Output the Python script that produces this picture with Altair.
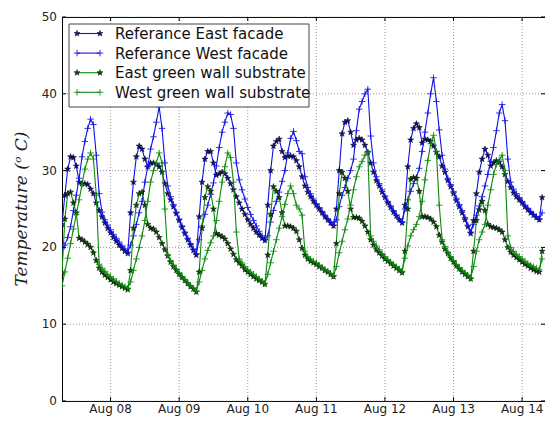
import math
import altair as alt
import pandas as pd

names = ["Referance East facade", "Referance West facade",
         "East green wall substrate", "West green wall substrate"]
first_hour = 7      # first reading: Aug 07, 07:00 (hourly readings, hours counted from Aug 07 00:00)

east_facade = [
    23.0, 26.8, 30.2, 31.8, 31.7, 30.6, 28.5, 28.3, 28.3, 28.2, 27.6, 27.0, 25.8, 24.8, 24.0, 23.2, 22.5, 21.9, 21.3, 20.8, 20.3, 19.9, 19.5, 19.2,
    24.5, 28.5, 31.8, 33.2, 32.8, 31.5, 30.5, 31.0, 31.0, 30.8, 30.5, 29.8, 28.3, 27.0, 26.2, 25.3, 24.4, 23.5, 22.6, 21.8, 21.0, 20.3, 19.6, 19.0,
    24.0, 28.5, 31.5, 32.5, 32.5, 31.0, 29.4, 29.6, 29.8, 29.6, 29.0, 28.3, 27.5, 26.6, 25.8, 25.0, 24.3, 23.6, 23.0, 22.5, 22.0, 21.6, 21.2, 20.9,
    25.5, 30.0, 33.2, 33.8, 34.1, 32.5, 31.7, 31.9, 31.9, 31.8, 31.3, 30.5, 29.2, 28.0, 27.2, 26.6, 26.0, 25.5, 25.0, 24.5, 24.0, 23.6, 23.2, 22.8,
    25.0, 30.0, 34.8, 36.3, 36.5, 35.0, 33.3, 34.0, 34.2, 34.0, 33.3, 32.4, 31.0, 29.8, 28.7, 28.0, 27.2, 26.5, 25.8, 25.2, 24.6, 24.1, 23.6, 23.2,
    25.5, 30.5, 34.0, 35.5, 36.1, 35.6, 33.6, 34.1, 34.0, 33.8, 33.2, 32.4, 31.8, 30.6, 29.8, 28.7, 27.9, 27.0, 26.1, 25.3, 24.5, 23.6, 22.7, 21.8,
    23.5, 27.0, 29.8, 31.5, 32.8, 32.0, 30.6, 31.0, 31.3, 31.1, 30.5, 29.5, 28.6, 27.8, 27.1, 26.6, 26.2, 25.8, 25.3, 24.9, 24.5, 24.2, 23.9, 23.6,
    26.5]

west_facade = [
    19.8, 20.3, 21.3, 22.7, 24.8, 26.8, 29.0, 31.8, 33.8, 35.5, 36.7, 36.0, 32.0, 27.0, 24.6, 23.6, 22.9, 22.3, 21.7, 21.2, 20.7, 20.2, 19.8, 19.4,
    20.3, 21.5, 23.0, 24.5, 26.0, 28.5, 30.5, 32.8, 34.4, 36.3, 38.3, 35.5, 31.0, 28.0, 26.6, 25.6, 24.6, 23.7, 22.8, 22.0, 21.2, 20.5, 19.8, 19.2,
    21.0, 22.8, 24.3, 25.5, 26.9, 28.4, 30.6, 33.0, 35.0, 36.3, 37.5, 37.3, 35.5, 31.0, 28.8, 27.5, 26.3, 25.2, 24.3, 23.5, 22.8, 22.1, 21.5, 21.0,
    21.5, 23.3, 24.8, 26.0, 27.2, 28.6, 30.0, 32.3, 34.2, 35.1, 33.9, 32.5, 32.2, 29.2, 27.8, 27.0, 26.3, 25.7, 25.2, 24.7, 24.2, 23.7, 23.3, 22.9,
    23.6, 25.3, 26.8, 27.8, 29.0, 30.0, 31.5, 35.2, 38.0, 39.0, 40.0, 40.6, 34.5, 31.0, 29.2, 28.3, 27.5, 26.7, 26.0, 25.4, 24.8, 24.2, 23.7, 23.3,
    25.0, 26.2, 27.3, 28.3, 29.1, 30.3, 32.5, 35.0, 37.5, 40.0, 42.1, 39.0, 35.3, 32.0, 30.2, 29.0, 28.2, 27.3, 26.4, 25.6, 24.8, 23.9, 22.9, 22.0,
    23.0, 24.2, 25.4, 26.6, 28.0, 29.5, 31.2, 33.0, 35.2, 37.5, 38.6, 36.5, 31.5, 28.5, 27.6, 27.0, 26.5, 26.0, 25.5, 25.1, 24.7, 24.3, 24.0, 23.7,
    24.5]

east_green = [
    16.7, 23.7, 27.0, 27.2, 25.8, 24.5, 21.2, 21.0, 20.7, 20.4, 20.0, 19.3, 18.3, 17.3, 16.8, 16.4, 16.1, 15.8, 15.5, 15.3, 15.1, 14.9, 14.7, 14.5,
    17.0, 22.5, 25.5, 27.0, 27.2, 25.5, 23.0, 22.5, 22.4, 22.0, 21.3, 20.5, 19.7, 18.9, 18.1, 17.5, 17.0, 16.5, 16.1, 15.7, 15.3, 14.9, 14.6, 14.2,
    16.8, 22.5, 26.5, 27.9, 27.3, 25.0, 21.8, 21.6, 21.4, 21.1, 20.5, 19.8, 19.1, 18.4, 18.0, 17.6, 17.1, 16.8, 16.5, 16.2, 15.9, 15.7, 15.5, 15.2,
    19.0, 24.3, 27.9, 27.3, 26.5, 24.5, 22.8, 22.8, 22.7, 22.5, 22.1, 21.0, 19.9, 19.0, 18.5, 18.2, 18.0, 17.8, 17.5, 17.3, 17.0, 16.8, 16.5, 16.2,
    20.5, 27.0, 29.8, 29.0, 27.3, 25.0, 23.9, 23.9, 23.8, 23.4, 22.8, 22.0, 21.0, 20.3, 19.7, 19.3, 18.9, 18.5, 18.2, 17.9, 17.6, 17.3, 17.0, 16.7,
    19.5, 25.0, 28.9, 29.1, 29.0, 27.3, 24.0, 24.0, 23.9, 23.7, 23.3, 22.7, 21.6, 20.7, 19.8, 19.2, 18.6, 18.1, 17.6, 17.2, 16.8, 16.5, 16.2, 15.9,
    19.5, 23.5, 24.9, 26.0, 24.8, 23.0, 22.7, 22.6, 22.5, 22.3, 22.0, 21.0, 20.0, 19.4, 19.0, 18.7, 18.4, 18.1, 17.8, 17.6, 17.3, 17.1, 16.9, 16.8,
    19.5]

west_green = [
    15.0, 16.8, 18.6, 20.5, 22.4, 24.3, 26.2, 28.2, 30.2, 31.5, 32.3, 31.5, 26.8, 17.8, 17.3, 16.9, 16.5, 16.2, 15.9, 15.6, 15.3, 15.1, 14.9, 14.7,
    15.5, 17.0, 18.5, 20.0, 21.5, 23.5, 26.0, 28.5, 30.0, 31.0, 32.3, 31.0, 25.0, 19.0, 18.3, 17.7, 17.2, 16.7, 16.2, 15.8, 15.4, 15.0, 14.7, 14.3,
    15.5, 17.0, 18.5, 19.6, 20.6, 21.5, 23.5, 26.0, 28.5, 30.5, 32.3, 31.7, 28.5, 22.0, 18.5, 18.0, 17.5, 17.1, 16.8, 16.5, 16.2, 15.9, 15.6, 15.3,
    16.5, 18.0, 19.5, 21.0, 22.5, 24.0, 25.6, 27.0, 28.0, 27.0, 25.5, 25.0, 24.2, 19.5, 18.8, 18.5, 18.2, 18.0, 17.7, 17.4, 17.1, 16.9, 16.6, 16.3,
    17.5, 19.3, 20.8, 22.3, 23.7, 25.5, 27.5, 29.2, 30.5, 31.2, 32.0, 32.4, 21.5, 20.8, 20.2, 19.7, 19.2, 18.8, 18.4, 18.1, 17.8, 17.5, 17.2, 16.9,
    18.6, 20.2, 21.5, 22.3, 23.0, 24.0, 26.0, 28.8, 31.3, 33.5, 34.6, 32.5, 25.5, 21.0, 20.1, 19.4, 18.8, 18.3, 17.8, 17.4, 17.0, 16.7, 16.4, 16.0,
    17.5, 19.5, 21.0, 22.0, 23.0, 25.5, 27.5, 29.5, 30.8, 31.4, 32.0, 30.0, 21.5, 20.0, 19.5, 19.1, 18.8, 18.5, 18.2, 17.9, 17.7, 17.5, 17.3, 17.1,
    18.5]

tick_labels = ["Aug 08", "Aug 09", "Aug 10", "Aug 11", "Aug 12", "Aug 13", "Aug 14"]
tick_hours = [24, 48, 72, 96, 120, 144, 168]   # midnights
y_ticks = [0, 10, 20, 30, 40, 50]
y_title = "Temperature (ᵒ C)"

series_values = [east_facade, west_facade, east_green, west_green]
hours = list(range(first_hour, first_hour + len(east_facade)))
frames = []
for nm, vals in zip(names, series_values):
    frames.append(pd.DataFrame({"hour": hours, "value": vals, "series": nm}))
df = pd.concat(frames, ignore_index=True)
xt = pd.DataFrame({"hour": tick_hours, "label": tick_labels})
yt = pd.DataFrame({"value": y_ticks, "label": [str(v) for v in y_ticks]})

# marker shapes (custom SVG paths in the [-1, 1] box)
def star_path(inner=0.382):
    pts = []
    for k in range(10):
        ang = math.radians(-90 + 36 * k)
        r = 1.0 if k % 2 == 0 else inner
        pts.append(f"{r * math.cos(ang):.3f},{r * math.sin(ang):.3f}")
    return "M" + "L".join(pts) + "Z"

STAR = star_path()
PLUS = "M-1,0L1,0M0,-1L0,1"

# styles
BLUE = "#1010e8"
GREEN = "#0a8a0a"
line_colors = [BLUE, BLUE, GREEN, GREEN]
marker_kind = ["star", "plus", "star", "plus"]
star_fill = ["#12128a", None, "#0b4d0b", None]

W, H = 483, 384
FONT = "DejaVu Sans"
x_scale = alt.Scale(domain=[7, 176], nice=False, zero=False)
y_scale = alt.Scale(domain=[0, 50], nice=False, zero=False)

X = lambda: alt.X("hour:Q", scale=x_scale, axis=None)
Y = lambda: alt.Y("value:Q", scale=y_scale, axis=None)

layers = []
# dotted grid
GRID = dict(color="#808080", strokeWidth=0.8, strokeDash=[1, 2])
layers.append(alt.Chart(xt).mark_rule(**GRID).encode(x=X()))
layers.append(alt.Chart(yt).mark_rule(**GRID).encode(y=Y()))

def marker_mark(i, clip):
    if marker_kind[i] == "star":
        return dict(shape=STAR, filled=True, fill=star_fill[i], stroke="#000",
                    strokeWidth=0.5, size=40, opacity=1, clip=clip)
    return dict(shape=PLUS, filled=False, stroke=line_colors[i],
                strokeWidth=1, size=42, opacity=0.85, clip=clip)

for i, nm in enumerate(names):
    base = alt.Chart(df).transform_filter(alt.datum.series == nm).encode(x=X(), y=Y())
    layers.append(base.mark_line(color=line_colors[i], strokeWidth=1.1, clip=True))
    layers.append(base.mark_point(**marker_mark(i, True)))

# inward ticks on all four sides
TICK = dict(color="#000", strokeWidth=1)
layers.append(alt.Chart(xt).mark_rule(**TICK).encode(x=X(), y=alt.value(H - 4), y2=alt.value(H)))
layers.append(alt.Chart(xt).mark_rule(**TICK).encode(x=X(), y=alt.value(0), y2=alt.value(4)))
layers.append(alt.Chart(yt).mark_rule(**TICK).encode(y=Y(), x=alt.value(0), x2=alt.value(4)))
layers.append(alt.Chart(yt).mark_rule(**TICK).encode(y=Y(), x=alt.value(W - 4), x2=alt.value(W)))

# tick labels and axis title (text marks placed through the scales)
layers.append(alt.Chart(xt).mark_text(align="center", baseline="top", font=FONT, fontSize=12,
                                      color="#222").encode(
    x=X(), y=alt.value(H + 3), text="label:N"))
layers.append(alt.Chart(yt).mark_text(align="right", baseline="middle", font=FONT, fontSize=12,
                                      color="#222").encode(
    y=Y(), x=alt.value(-5), text="label:N"))
layers.append(alt.Chart(pd.DataFrame({"t": [y_title]})).mark_text(
    align="center", baseline="middle", angle=270, font="DejaVu Serif", fontStyle="italic",
    fontSize=17, color="#222").encode(x=alt.value(-40), y=alt.value(H / 2), text="t:N"))

# legend (decoration, in pixel space of the plot area)
one = pd.DataFrame({"k": [0]})
layers.append(alt.Chart(one).mark_rect(fill="white", stroke="#444", strokeWidth=1).encode(
    x=alt.value(7), x2=alt.value(247), y=alt.value(7), y2=alt.value(90)))
for i, nm in enumerate(names):
    yy = 16.5 + 19.6 * i
    ldf = pd.DataFrame({"name": [nm]})
    layers.append(alt.Chart(ldf).mark_rule(color=line_colors[i], strokeWidth=1.1).encode(
        x=alt.value(15), x2=alt.value(38), y=alt.value(yy)))
    for xx in (15, 38):
        layers.append(alt.Chart(ldf).mark_point(**marker_mark(i, False)).encode(
            x=alt.value(xx), y=alt.value(yy)))
    layers.append(alt.Chart(ldf).mark_text(align="left", baseline="middle", font=FONT,
                                           fontSize=15, color="#111").encode(
        x=alt.value(53), y=alt.value(yy + 0.5), text="name:N"))

chart = alt.layer(*layers).properties(
    width=W, height=H,
    autosize=alt.AutoSizeParams(type="none"),
    padding={"left": 54, "top": 9, "right": 0, "bottom": 16},
    background="white",
).configure_view(stroke="#000", strokeWidth=1)

chart.save("out.html", embed_options={"renderer": "svg", "actions": False})
